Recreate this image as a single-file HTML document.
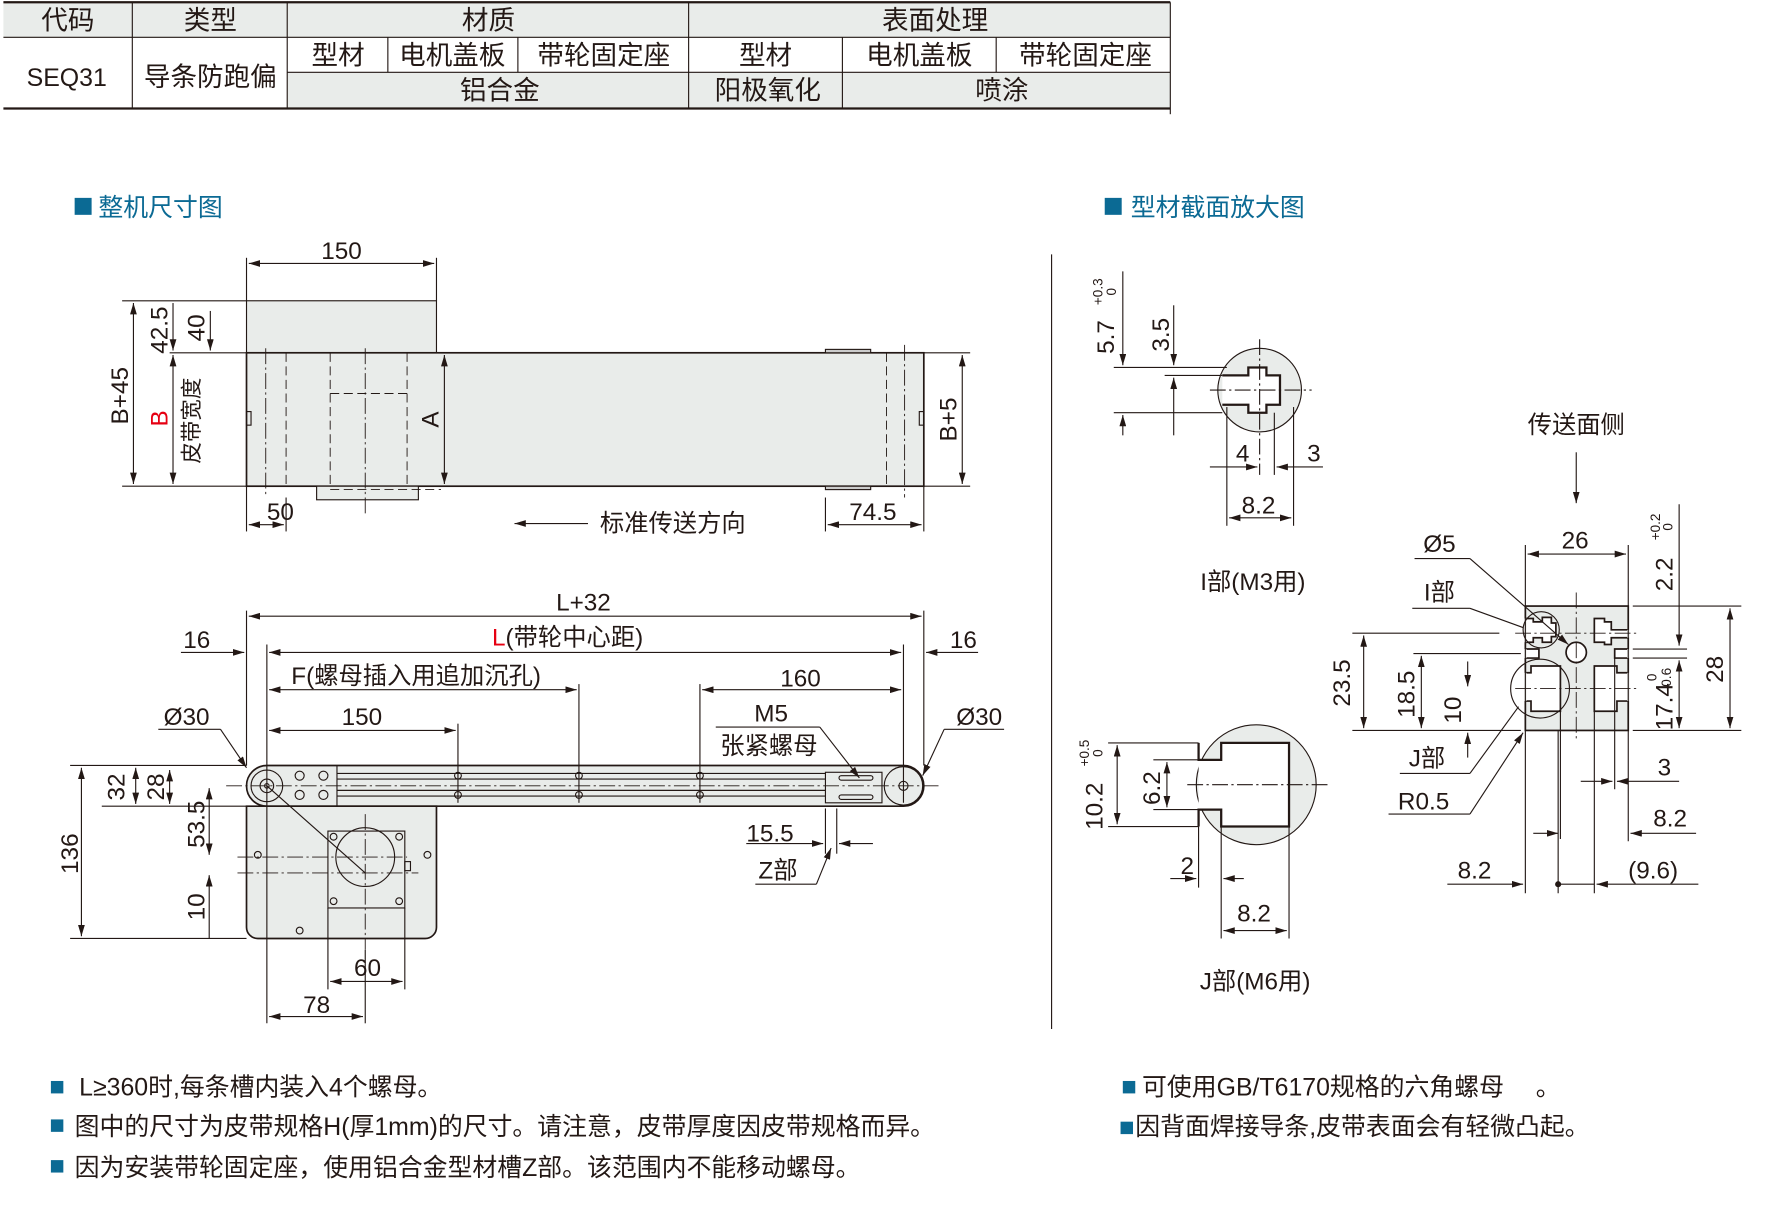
<!DOCTYPE html>
<html><head><meta charset="utf-8"><style>
html,body{margin:0;padding:0;background:#fff}
svg{display:block}
text{font-family:"Liberation Sans","Noto Sans CJK SC",sans-serif;fill:#231815}
</style></head><body>
<svg width="1773" height="1211" viewBox="0 0 1568 1071" xmlns="http://www.w3.org/2000/svg">
<defs>
<marker id="a" viewBox="0 0 10 6" refX="10" refY="3" markerWidth="10" markerHeight="6" orient="auto-start-reverse" markerUnits="userSpaceOnUse"><path d="M0,0L10,3L0,6z" fill="#231815"/></marker>
</defs>
<!-- TABLE -->
<g stroke="#231815" stroke-width="1">
<rect x="3" y="2" width="1032" height="31" fill="#e9ecea" stroke="none"/>
<rect x="254" y="64" width="781" height="32" fill="#e9ecea" stroke="none"/>
<line x1="3" y1="2" x2="1035" y2="2" stroke-width="2"/>
<line x1="3" y1="33" x2="1035" y2="33"/>
<line x1="254" y1="64" x2="1035" y2="64"/>
<line x1="3" y1="96" x2="1035" y2="96" stroke-width="2"/>
<line x1="117" y1="2" x2="117" y2="96"/>
<line x1="254" y1="2" x2="254" y2="96"/>
<line x1="609" y1="2" x2="609" y2="96"/>
<line x1="343" y1="33" x2="343" y2="64"/>
<line x1="458" y1="33" x2="458" y2="64"/>
<line x1="745" y1="33" x2="745" y2="96"/>
<line x1="881" y1="33" x2="881" y2="64"/>
<line x1="1035" y1="2" x2="1035" y2="101"/>
</g>
<g font-size="23.5" text-anchor="middle">
<text x="60" y="26">代码</text><text x="186" y="26">类型</text><text x="432" y="26">材质</text><text x="827" y="26">表面处理</text>
<text x="299" y="57">型材</text><text x="400" y="57">电机盖板</text><text x="534" y="57">带轮固定座</text>
<text x="677" y="57">型材</text><text x="813" y="57">电机盖板</text><text x="960" y="57">带轮固定座</text>
<text x="442" y="88">铝合金</text><text x="679" y="88">阳极氧化</text><text x="886" y="88">喷涂</text>
<text x="59" y="76" font-size="22">SEQ31</text><text x="186" y="76">导条防跑偏</text>
</g>
<!-- section titles -->
<rect x="66" y="175" width="15" height="15" fill="#0b6a94"/>
<text x="87" y="191" font-size="22" style="fill:#0b6a94">整机尺寸图</text>
<rect x="977" y="175" width="15" height="15" fill="#0b6a94"/>
<text x="1000" y="191" font-size="22" style="fill:#0b6a94">型材截面放大图</text>
<line x1="930" y1="225" x2="930" y2="910" stroke="#231815" stroke-width="1"/>

<!-- TOP VIEW -->
<g stroke="#231815" stroke-width="1" fill="none">
<rect x="218" y="266" width="168" height="46" fill="#e9ecea"/>
<rect x="218" y="312" width="599" height="118" fill="#e9ecea" stroke-width="1.5"/>
<rect x="280" y="430" width="90" height="12" fill="#e9ecea"/>
<rect x="730" y="309" width="40" height="3" fill="#ccc"/><rect x="730" y="430" width="40" height="3" fill="#ccc"/>
<rect x="218" y="364" width="4" height="12"/><rect x="813" y="364" width="4" height="12"/>
<g stroke-dasharray="8,4" stroke-width="0.8">
<line x1="253" y1="312" x2="253" y2="430"/><line x1="292" y1="312" x2="292" y2="430"/><line x1="360" y1="312" x2="360" y2="430"/>
<line x1="292" y1="348" x2="360" y2="348"/><line x1="292" y1="433" x2="390" y2="433"/>
<line x1="784" y1="312" x2="784" y2="430"/>
</g>
<g stroke-dasharray="14,3,2,3" stroke-width="0.8">
<line x1="235" y1="308" x2="235" y2="440"/><line x1="323" y1="308" x2="323" y2="455"/><line x1="800" y1="305" x2="800" y2="440"/>
</g>
<line x1="218" y1="228" x2="218" y2="266"/><line x1="386" y1="228" x2="386" y2="266"/>
<line x1="220" y1="233" x2="384" y2="233" marker-start="url(#a)" marker-end="url(#a)"/>
<line x1="108" y1="266" x2="218" y2="266"/><line x1="108" y1="430" x2="218" y2="430"/>
<line x1="150" y1="312" x2="218" y2="312"/>
<line x1="118" y1="268" x2="118" y2="428" marker-start="url(#a)" marker-end="url(#a)"/>
<line x1="153" y1="268" x2="153" y2="310" marker-end="url(#a)"/>
<line x1="153" y1="314" x2="153" y2="428" marker-start="url(#a)" marker-end="url(#a)"/>
<line x1="186" y1="275" x2="186" y2="310" marker-end="url(#a)"/>
<line x1="393" y1="314" x2="393" y2="428" marker-start="url(#a)" marker-end="url(#a)"/>
<line x1="817" y1="312" x2="858" y2="312"/><line x1="817" y1="430" x2="858" y2="430"/>
<line x1="851" y1="314" x2="851" y2="428" marker-start="url(#a)" marker-end="url(#a)"/>
<line x1="218" y1="430" x2="218" y2="470"/><line x1="253" y1="440" x2="253" y2="470"/>
<line x1="220" y1="464" x2="251" y2="464" marker-start="url(#a)" marker-end="url(#a)"/>
<line x1="730" y1="440" x2="730" y2="470"/><line x1="817" y1="430" x2="817" y2="470"/>
<line x1="732" y1="464" x2="815" y2="464" marker-start="url(#a)" marker-end="url(#a)"/>
<line x1="455" y1="463" x2="520" y2="463" marker-start="url(#a)"/>
</g>
<g font-size="21.5" text-anchor="middle">
<text x="302" y="229">150</text>
<text x="248" y="460">50</text><text x="772" y="460">74.5</text>
<text x="595" y="470">标准传送方向</text>
<text transform="translate(113,350) rotate(-90)">B+45</text>
<text transform="translate(148,292) rotate(-90)">42.5</text>
<text transform="translate(181,290) rotate(-90)">40</text>
<text transform="translate(148,370) rotate(-90)" style="fill:#e60012">B</text>
<text transform="translate(176,372) rotate(-90)" font-size="19">皮带宽度</text>
<text transform="translate(388,371) rotate(-90)">A</text>
<text transform="translate(846,371) rotate(-90)">B+5</text>
</g>

<!-- SIDE VIEW -->
<g stroke="#231815" stroke-width="1" fill="none">
<path d="M236,677 H799 A18,18 0 0 1 799,713 H236 A18,18 0 0 1 236,677 Z" fill="#e9ecea" stroke-width="1.5"/>
<path d="M218,713 H386 V820 A10,10 0 0 1 376,830 H228 A10,10 0 0 1 218,820 Z" fill="#e9ecea" stroke-width="1.5"/>
<line x1="298" y1="684" x2="730" y2="684"/><line x1="298" y1="689" x2="730" y2="689"/>
<line x1="298" y1="699" x2="730" y2="699"/><line x1="298" y1="704" x2="730" y2="704"/>
<line x1="298" y1="677" x2="298" y2="713"/>
<rect x="730" y="683" width="50" height="27" fill="#e9ecea"/>
<rect x="742" y="686" width="30" height="4" rx="2"/><rect x="742" y="703" width="30" height="4" rx="2"/>
<circle cx="236" cy="695" r="14"/><circle cx="236" cy="695" r="6"/><circle cx="236" cy="695" r="2"/>
<circle cx="799" cy="695" r="17"/><circle cx="799" cy="695" r="4"/>
<circle cx="265" cy="686" r="4"/><circle cx="286" cy="686" r="4"/><circle cx="265" cy="703" r="4"/><circle cx="286" cy="703" r="4"/>
<circle cx="405" cy="686" r="3"/><circle cx="405" cy="703" r="3"/><circle cx="512" cy="686" r="3"/><circle cx="512" cy="703" r="3"/><circle cx="619" cy="686" r="3"/><circle cx="619" cy="703" r="3"/>
<rect x="290" y="735" width="68" height="68"/>
<circle cx="323" cy="758" r="26"/>
<circle cx="295" cy="740" r="3"/><circle cx="353" cy="740" r="3"/><circle cx="295" cy="797" r="3"/><circle cx="353" cy="797" r="3"/>
<circle cx="228" cy="756" r="3"/><circle cx="378" cy="756" r="3"/><circle cx="265" cy="823" r="3"/>
<rect x="358" y="762" width="5" height="8"/>
<line x1="236" y1="695" x2="323" y2="772"/>
<g stroke-dasharray="14,3,2,3" stroke-width="0.8">
<line x1="200" y1="695" x2="830" y2="695"/><line x1="210" y1="758" x2="360" y2="758"/><line x1="210" y1="772" x2="370" y2="772"/>
<line x1="323" y1="720" x2="323" y2="840"/>
</g>
<line x1="218" y1="540" x2="218" y2="677"/><line x1="817" y1="540" x2="817" y2="677"/>
<line x1="220" y1="545" x2="815" y2="545" marker-start="url(#a)" marker-end="url(#a)"/>
<line x1="236" y1="570" x2="236" y2="905"/><line x1="799" y1="570" x2="799" y2="710"/>
<line x1="238" y1="577" x2="797" y2="577" marker-start="url(#a)" marker-end="url(#a)"/>
<line x1="160" y1="577" x2="216" y2="577" marker-end="url(#a)"/>
<line x1="865" y1="577" x2="819" y2="577" marker-end="url(#a)"/>
<line x1="238" y1="610" x2="510" y2="610" marker-start="url(#a)" marker-end="url(#a)"/>
<line x1="512" y1="605" x2="512" y2="710"/>
<line x1="405" y1="640" x2="405" y2="710"/>
<line x1="238" y1="646" x2="403" y2="646" marker-start="url(#a)" marker-end="url(#a)"/>
<line x1="619" y1="605" x2="619" y2="710"/>
<line x1="621" y1="610" x2="797" y2="610" marker-start="url(#a)" marker-end="url(#a)"/>
<line x1="140" y1="645" x2="195" y2="645"/><line x1="195" y1="645" x2="218" y2="679" marker-end="url(#a)"/>
<line x1="888" y1="645" x2="835" y2="645"/><line x1="835" y1="645" x2="816" y2="686" marker-end="url(#a)"/>
<line x1="633" y1="643" x2="725" y2="643"/><line x1="725" y1="643" x2="760" y2="688" marker-end="url(#a)"/>
<line x1="730" y1="715" x2="730" y2="755"/><line x1="740" y1="715" x2="740" y2="755"/>
<line x1="660" y1="746" x2="728" y2="746" marker-end="url(#a)"/><line x1="772" y1="746" x2="742" y2="746" marker-end="url(#a)"/>
<line x1="668" y1="782" x2="722" y2="782"/><line x1="722" y1="782" x2="735" y2="750" marker-end="url(#a)"/>
<line x1="62" y1="677" x2="218" y2="677"/><line x1="62" y1="830" x2="218" y2="830"/>
<line x1="90" y1="713" x2="218" y2="713"/>
<line x1="72" y1="679" x2="72" y2="828" marker-start="url(#a)" marker-end="url(#a)"/>
<line x1="120" y1="679" x2="120" y2="711" marker-start="url(#a)" marker-end="url(#a)"/>
<line x1="150" y1="681" x2="150" y2="711" marker-start="url(#a)" marker-end="url(#a)"/>
<line x1="185" y1="697" x2="185" y2="756" marker-start="url(#a)" marker-end="url(#a)"/>
<line x1="185" y1="830" x2="185" y2="774" marker-end="url(#a)"/>
<line x1="290" y1="803" x2="290" y2="875"/><line x1="358" y1="803" x2="358" y2="875"/>
<line x1="292" y1="868" x2="356" y2="868" marker-start="url(#a)" marker-end="url(#a)"/>
<line x1="323" y1="840" x2="323" y2="905"/>
<line x1="238" y1="899" x2="321" y2="899" marker-start="url(#a)" marker-end="url(#a)"/>
</g>
<g font-size="21.5" text-anchor="middle">
<text x="516" y="540">L+32</text>
<text x="502" y="571"><tspan style="fill:#e60012">L</tspan>(带轮中心距)</text>
<text x="174" y="573">16</text><text x="852" y="573">16</text>
<text x="368" y="605">F(螺母插入用追加沉孔)</text>
<text x="320" y="641">150</text><text x="708" y="607">160</text>
<text x="682" y="638">M5</text><text x="680" y="667">张紧螺母</text>
<text x="165" y="641">Ø30</text><text x="866" y="641">Ø30</text>
<text x="681" y="744">15.5</text><text x="688" y="777">Z部</text>
<text x="325" y="863">60</text><text x="280" y="896">78</text>
<text transform="translate(69,755) rotate(-90)">136</text>
<text transform="translate(110,696) rotate(-90)">32</text>
<text transform="translate(145,696) rotate(-90)">28</text>
<text transform="translate(181,729) rotate(-90)">53.5</text>
<text transform="translate(181,802) rotate(-90)">10</text>
</g>

<!-- I DETAIL -->
<g stroke="#231815" stroke-width="1" fill="none">
<circle cx="1114" cy="345" r="37" fill="#e9ecea"/>
<path d="M1081,332 H1104 V325 H1120 V332 H1132 V358 H1120 V365 H1104 V358 H1081" stroke-width="2" fill="#fff"/>
<line x1="1070" y1="345" x2="1160" y2="345" stroke-dasharray="14,3,2,3"/>
<line x1="1114" y1="300" x2="1114" y2="420" stroke-dasharray="14,3,2,3"/>
<line x1="985" y1="325" x2="1085" y2="325"/><line x1="985" y1="365" x2="1081" y2="365"/>
<line x1="1030" y1="332" x2="1081" y2="332"/>
<line x1="993" y1="240" x2="993" y2="323" marker-end="url(#a)"/>
<line x1="993" y1="367" x2="993" y2="385" marker-start="url(#a)"/>
<line x1="1038" y1="270" x2="1038" y2="323" marker-end="url(#a)"/>
<line x1="1038" y1="334" x2="1038" y2="385" marker-start="url(#a)"/>
<line x1="1085" y1="360" x2="1085" y2="465"/><line x1="1144" y1="360" x2="1144" y2="465"/>
<line x1="1127" y1="365" x2="1127" y2="420"/>
<line x1="1087" y1="458" x2="1142" y2="458" marker-start="url(#a)" marker-end="url(#a)"/>
<line x1="1070" y1="413" x2="1112" y2="413" marker-end="url(#a)"/><line x1="1170" y1="413" x2="1129" y2="413" marker-end="url(#a)"/>
</g>
<g font-size="21.5" text-anchor="middle">
<text transform="translate(985,298) rotate(-90)">5.7</text>
<text transform="translate(975,258) rotate(-90)" font-size="12">+0.3</text>
<text transform="translate(987,258) rotate(-90)" font-size="12">0</text>
<text transform="translate(1034,296) rotate(-90)">3.5</text>
<text x="1099" y="408">4</text><text x="1162" y="408">3</text>
<text x="1113" y="454">8.2</text>
<text x="1108" y="522">I部(M3用)</text>
</g>

<!-- J DETAIL -->
<g stroke="#231815" stroke-width="1" fill="none">
<circle cx="1111" cy="694" r="53" fill="#e9ecea"/>
<path d="M1060,657 V672 H1080 V657 H1140 V731 H1080 V716 H1060 V731" stroke-width="2" fill="#fff"/>
<line x1="1050" y1="694" x2="1175" y2="694" stroke-dasharray="14,3,2,3"/>
<line x1="980" y1="657" x2="1060" y2="657"/><line x1="980" y1="731" x2="1060" y2="731"/>
<line x1="1020" y1="672" x2="1060" y2="672"/><line x1="1020" y1="716" x2="1060" y2="716"/>
<line x1="988" y1="659" x2="988" y2="729" marker-start="url(#a)" marker-end="url(#a)"/>
<line x1="1032" y1="674" x2="1032" y2="714" marker-start="url(#a)" marker-end="url(#a)"/>
<line x1="1080" y1="731" x2="1080" y2="830"/><line x1="1140" y1="731" x2="1140" y2="830"/>
<line x1="1060" y1="731" x2="1060" y2="785"/>
<line x1="1082" y1="823" x2="1138" y2="823" marker-start="url(#a)" marker-end="url(#a)"/>
<line x1="1035" y1="777" x2="1058" y2="777" marker-end="url(#a)"/><line x1="1100" y1="777" x2="1082" y2="777" marker-end="url(#a)"/>
</g>
<g font-size="21.5" text-anchor="middle">
<text transform="translate(975,713) rotate(-90)">10.2</text>
<text transform="translate(963,666) rotate(-90)" font-size="12">+0.5</text>
<text transform="translate(975,666) rotate(-90)" font-size="12">0</text>
<text transform="translate(1026,697) rotate(-90)">6.2</text>
<text x="1050" y="773">2</text><text x="1109" y="815">8.2</text>
<text x="1110" y="875">J部(M6用)</text>
</g>

<!-- PROFILE SECTION -->
<g stroke="#231815" stroke-width="1" fill="none">
<rect x="1349" y="536" width="91" height="110" fill="#e9ecea" stroke-width="1.5"/>
<path d="M1349,547 H1356 V550 H1364 V546 H1372 V551 H1376 V563 H1372 V568 H1364 V564 H1356 V568 H1349" fill="#fff" stroke-width="1.5"/>
<path d="M1349,574 H1361 V582 H1349" fill="#fff" stroke-width="1.5"/>
<path d="M1349,595 H1354 V589 H1380 V629 H1354 V620 H1349" fill="#fff" stroke-width="1.5"/>
<path d="M1440,557 H1425 V550 H1419 V547 H1410 V568 H1419 V570 H1425 V564 H1440" fill="#fff" stroke-width="1.5"/>
<path d="M1440,574 H1428 V582 H1440" fill="#fff" stroke-width="1.5"/>
<path d="M1440,595 H1430 V589 H1410 V629 H1430 V620 H1440" fill="#fff" stroke-width="1.5"/>
<line x1="1349" y1="547" x2="1349" y2="568" stroke="#e9ecea" stroke-width="2"/>
<line x1="1349" y1="574" x2="1349" y2="582" stroke="#e9ecea" stroke-width="2"/>
<line x1="1349" y1="595" x2="1349" y2="620" stroke="#e9ecea" stroke-width="2"/>
<line x1="1440" y1="557" x2="1440" y2="564" stroke="#e9ecea" stroke-width="2"/>
<line x1="1440" y1="574" x2="1440" y2="582" stroke="#e9ecea" stroke-width="2"/>
<line x1="1440" y1="595" x2="1440" y2="620" stroke="#e9ecea" stroke-width="2"/>
<circle cx="1363" cy="557" r="16"/>
<circle cx="1362" cy="609" r="26"/>
<circle cx="1394" cy="577" r="9" fill="#fff" stroke-width="1.5"/>
<g stroke-dasharray="14,3,2,3" stroke-width="0.8">
<line x1="1394" y1="524" x2="1394" y2="656"/>
<line x1="1340" y1="609" x2="1450" y2="609"/>
<line x1="1340" y1="560" x2="1450" y2="560"/>
</g>
<line x1="1349" y1="482" x2="1349" y2="790"/><line x1="1440" y1="482" x2="1440" y2="744"/>
<line x1="1351" y1="490" x2="1438" y2="490" marker-start="url(#a)" marker-end="url(#a)"/>
<line x1="1444" y1="536" x2="1540" y2="536"/><line x1="1444" y1="646" x2="1540" y2="646"/>
<line x1="1196" y1="646" x2="1345" y2="646"/>
<line x1="1196" y1="560" x2="1326" y2="560"/>
<line x1="1250" y1="578" x2="1345" y2="578"/>
<line x1="1530" y1="538" x2="1530" y2="644" marker-start="url(#a)" marker-end="url(#a)"/>
<line x1="1206" y1="562" x2="1206" y2="644" marker-start="url(#a)" marker-end="url(#a)"/>
<line x1="1257" y1="580" x2="1257" y2="644" marker-start="url(#a)" marker-end="url(#a)"/>
<line x1="1298" y1="585" x2="1298" y2="607" marker-end="url(#a)"/>
<line x1="1298" y1="670" x2="1298" y2="648" marker-end="url(#a)"/>
<line x1="1485" y1="446" x2="1485" y2="571" marker-end="url(#a)"/>
<line x1="1485" y1="584" x2="1485" y2="644" marker-start="url(#a)" marker-end="url(#a)"/>
<line x1="1444" y1="574" x2="1492" y2="574"/><line x1="1444" y1="582" x2="1492" y2="582"/>
<line x1="1394" y1="400" x2="1394" y2="445" marker-end="url(#a)"/>
<line x1="1428" y1="582" x2="1428" y2="698"/><line x1="1410" y1="629" x2="1410" y2="790"/>
<line x1="1380" y1="629" x2="1380" y2="742"/>
<line x1="1398" y1="691" x2="1426" y2="691" marker-end="url(#a)"/><line x1="1485" y1="691" x2="1430" y2="691" marker-end="url(#a)"/>
<line x1="1378" y1="646" x2="1378" y2="790"/>
<line x1="1356" y1="737" x2="1378" y2="737" marker-end="url(#a)"/><line x1="1500" y1="737" x2="1442" y2="737" marker-end="url(#a)"/>
<line x1="1280" y1="782" x2="1347" y2="782" marker-end="url(#a)"/><line x1="1502" y1="782" x2="1412" y2="782" marker-end="url(#a)"/>
<line x1="1378" y1="782" x2="1410" y2="782"/>
<circle cx="1378" cy="782" r="2.2" fill="#231815"/>
<line x1="1251" y1="494" x2="1300" y2="494"/><line x1="1300" y1="494" x2="1387" y2="570" marker-end="url(#a)"/>
<line x1="1249" y1="538" x2="1300" y2="538"/><line x1="1300" y1="538" x2="1347" y2="555"/>
<line x1="1238" y1="684" x2="1300" y2="684"/><line x1="1300" y1="684" x2="1343" y2="625"/>
<line x1="1228" y1="720" x2="1300" y2="720"/><line x1="1300" y1="720" x2="1347" y2="648" marker-end="url(#a)"/>
</g>
<g font-size="21.5" text-anchor="middle">
<text x="1394" y="383">传送面侧</text>
<text x="1393" y="485">26</text>
<text x="1273" y="488">Ø5</text><text x="1273" y="531">I部</text>
<text x="1262" y="678">J部</text><text x="1259" y="716">R0.5</text>
<text x="1472" y="686">3</text><text x="1477" y="731">8.2</text>
<text x="1304" y="777">8.2</text><text x="1462" y="777">(9.6)</text>
<text transform="translate(1194,604) rotate(-90)">23.5</text>
<text transform="translate(1251,614) rotate(-90)">18.5</text>
<text transform="translate(1292,628) rotate(-90)">10</text>
<text transform="translate(1524,592) rotate(-90)">28</text>
<text transform="translate(1479,508) rotate(-90)">2.2</text>
<text transform="translate(1468,466) rotate(-90)" font-size="12">+0.2</text>
<text transform="translate(1479,466) rotate(-90)" font-size="12">0</text>
<text transform="translate(1479,625) rotate(-90)">17.4</text>
<text transform="translate(1465,599) rotate(-90)" font-size="12">0</text>
<text transform="translate(1478,601) rotate(-90)" font-size="12">-0.6</text>
</g>

<!-- NOTES -->
<g font-size="22">
<rect x="45" y="956" width="11" height="11" fill="#0b6a94"/><text x="70" y="969">L≥360时,每条槽内装入4个螺母。</text>
<rect x="45" y="990" width="11" height="11" fill="#0b6a94"/><text x="66" y="1004">图中的尺寸为皮带规格H(厚1mm)的尺寸。请注意，皮带厚度因皮带规格而异。</text>
<rect x="45" y="1026" width="11" height="11" fill="#0b6a94"/><text x="66" y="1040">因为安装带轮固定座，使用铝合金型材槽Z部。该范围内不能移动螺母。</text>
<rect x="993" y="956" width="11" height="11" fill="#0b6a94"/><text x="1010" y="969">可使用GB/T6170规格的六角螺母　 。</text>
<rect x="991" y="992" width="11" height="11" fill="#0b6a94"/><text x="1004" y="1004">因背面焊接导条,皮带表面会有轻微凸起。</text>
</g>
</svg>
</body></html>
